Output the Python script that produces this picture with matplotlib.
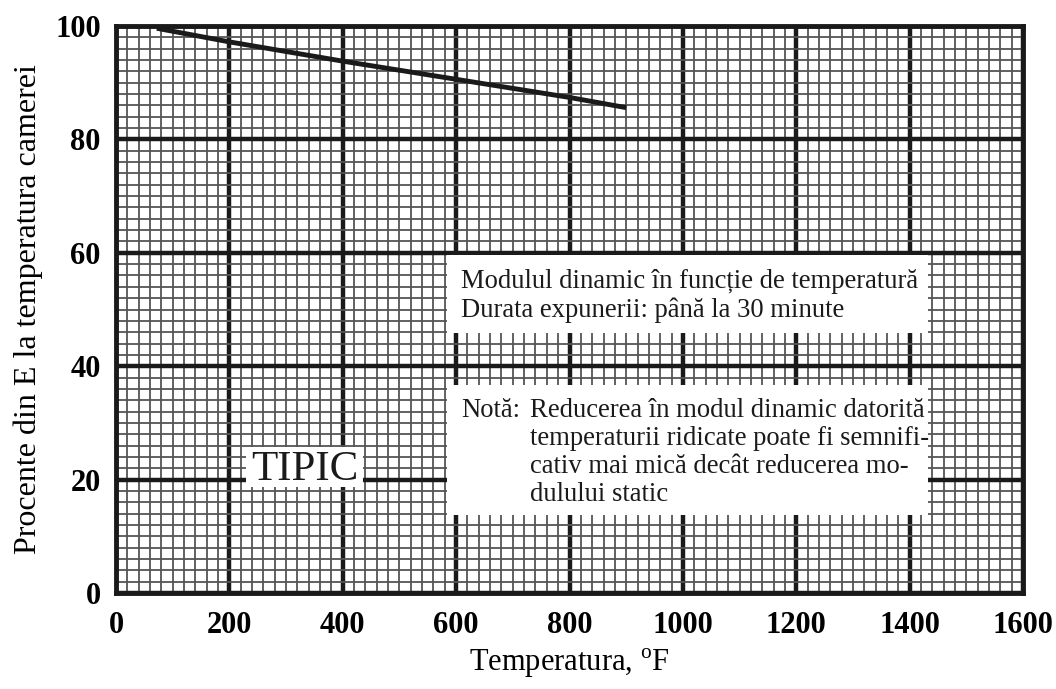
import matplotlib
matplotlib.use('Agg')
import matplotlib.pyplot as plt
from matplotlib.ticker import MultipleLocator
from matplotlib.patches import Rectangle

# date
temperatura = [72, 200, 400, 600, 800, 900]
procent_E = [99.6, 97.2, 93.8, 90.6, 87.4, 85.6]

x_ticks = [0, 200, 400, 600, 800, 1000, 1200, 1400, 1600]
y_ticks = [0, 20, 40, 60, 80, 100]

text_titlu = ['Modulul dinamic în funcție de temperatură',
              'Durata expunerii: până la 30 minute']
text_nota = ['Reducerea în modul dinamic datorită',
             'temperaturii ridicate poate fi semnifi-',
             'cativ mai mică decât reducerea mo-',
             'dulului static']

plt.rcParams['font.family'] = ['Liberation Serif', 'DejaVu Serif']
plt.rcParams['mathtext.fontset'] = 'custom'
plt.rcParams['mathtext.rm'] = 'Liberation Serif'

fig = plt.figure(figsize=(10.56, 6.89), dpi=100)
ax = fig.add_axes([116/1056, 1 - 593/689, (1023 - 116)/1056, (593 - 26)/689])

ax.set_xlim(0, 1600)
ax.set_ylim(0, 100)
ax.set_xticks(x_ticks)
ax.set_yticks(y_ticks)
ax.xaxis.set_minor_locator(MultipleLocator(20))
ax.yaxis.set_minor_locator(MultipleLocator(2))

# hartie milimetrica
ax.grid(True, which='minor', color='#555555', linewidth=1.3)
ax.grid(True, which='major', color='#1a1a1a', linewidth=3.2)
ax.tick_params(which='both', length=0)
ax.tick_params(axis='x', pad=13, labelsize=22)
ax.tick_params(axis='y', pad=11, labelsize=22)
for lab in ax.get_xticklabels() + ax.get_yticklabels():
    lab.set_fontweight('bold')
for s in ax.spines.values():
    s.set_linewidth(3.5)
    s.set_color('#1a1a1a')

ax.set_xlabel('Temperatura, $^{\\mathrm{o}}$F', fontsize=22, labelpad=5)
ax.set_ylabel('Procente din E la temperatura camerei', fontsize=23, labelpad=9)

# curba
ax.plot(temperatura, procent_E, color='#1a1a1a', linewidth=3.5, zorder=6,
        solid_capstyle='butt')

# casete albe cu text
ax.add_patch(Rectangle((584, 45.9), 1432 - 584, 59.6 - 45.9,
                       facecolor='white', edgecolor='none', zorder=3))
ax.add_patch(Rectangle((584, 13.75), 1432 - 584, 36.7 - 13.75,
                       facecolor='white', edgecolor='none', zorder=3))
ax.add_patch(Rectangle((229, 18.7), 436 - 229, 25.75 - 18.7,
                       facecolor='white', edgecolor='none', zorder=3))

fs = 19.2
ax.text(609, 53.85, text_titlu[0], fontsize=fs, va='baseline', zorder=4,
        color='#1a1a1a')
ax.text(609, 48.75, text_titlu[1], fontsize=fs, va='baseline', zorder=4,
        color='#1a1a1a')

ax.text(609, 31.1, 'Notă:', fontsize=fs, va='baseline', zorder=4,
        color='#1a1a1a')
y_nota = [31.1, 26.1, 21.1, 16.2]
for t, yy in zip(text_nota, y_nota):
    ax.text(730, yy, t, fontsize=fs, va='baseline', zorder=4, color='#1a1a1a')

ax.text(239, 19.9, 'TIPIC', fontsize=31, va='baseline', zorder=4,
        color='#1a1a1a')

fig.savefig('out.png', dpi=100)
